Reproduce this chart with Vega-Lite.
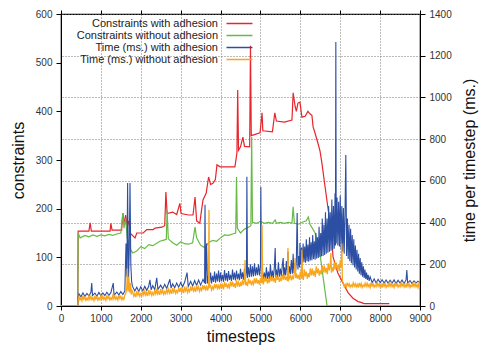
{
  "$schema": "https://vega.github.io/schema/vega-lite/v6.json",
  "width": 359,
  "height": 292,
  "autosize": {"type": "none"},
  "padding": {"left": 61, "top": 14, "right": 60, "bottom": 41},
  "background": "white",
  "config": {
    "font": "Liberation Sans",
    "view": {"stroke": "black", "strokeWidth": 1.2},
    "axis": {"domainColor": "black", "tickColor": "black", "labelColor": "#333", "titleColor": "#111", "titleFontWeight": "normal", "labelFontSize": 10, "titleFontSize": 16, "tickSize": 5, "gridColor": "#777", "gridDash": [1, 2], "gridWidth": 1, "labelOverlap": false, "format": "d"}
  },
  "datasets": {
    "red": [
      {"t":0,"v":0},{"t":420,"v":0},{"t":430,"v":154},{"t":700,"v":154},{"t":730,"v":171},{"t":760,"v":154},{"t":1230,"v":154},{"t":1250,"v":170},{"t":1280,"v":156},{"t":1520,"v":156},{"t":1550,"v":191},{"t":1580,"v":170},{"t":1620,"v":187},{"t":1660,"v":165},{"t":1700,"v":175},{"t":1730,"v":150},{"t":1855,"v":140},{"t":1900,"v":150},{"t":2060,"v":150},{"t":2150,"v":157},{"t":2310,"v":157},{"t":2360,"v":160},{"t":2530,"v":162},{"t":2600,"v":165},{"t":2630,"v":234},{"t":2660,"v":190},{"t":2800,"v":193},{"t":2900,"v":188},{"t":2980,"v":211},{"t":3010,"v":190},{"t":3200,"v":187},{"t":3310,"v":187},{"t":3360,"v":224},{"t":3400,"v":175},{"t":3480,"v":170},{"t":3520,"v":195},{"t":3560,"v":218},{"t":3640,"v":232},{"t":3700,"v":265},{"t":3750,"v":250},{"t":3810,"v":252},{"t":3870,"v":260},{"t":3910,"v":290},{"t":3990,"v":286},{"t":4360,"v":286},{"t":4410,"v":314},{"t":4430,"v":444},{"t":4450,"v":320},{"t":4500,"v":327},{"t":4560,"v":347},{"t":4600,"v":328},{"t":4730,"v":327},{"t":4750,"v":535},{"t":4770,"v":350},{"t":4990,"v":356},{"t":5040,"v":397},{"t":5060,"v":360},{"t":5300,"v":358},{"t":5360,"v":397},{"t":5400,"v":380},{"t":5600,"v":378},{"t":5790,"v":382},{"t":5820,"v":438},{"t":5870,"v":410},{"t":5900,"v":400},{"t":5940,"v":417},{"t":5990,"v":419},{"t":6040,"v":388},{"t":6120,"v":390},{"t":6190,"v":400},{"t":6240,"v":395},{"t":6290,"v":392},{"t":6320,"v":368},{"t":6370,"v":355},{"t":6440,"v":335},{"t":6490,"v":320},{"t":6540,"v":294},{"t":6620,"v":245},{"t":6690,"v":203},{"t":6770,"v":156},{"t":6820,"v":101},{"t":6940,"v":68},{"t":7070,"v":47},{"t":7200,"v":27},{"t":7320,"v":16},{"t":7450,"v":9},{"t":7500,"v":8},{"t":7600,"v":5},{"t":8230,"v":5}
    ],
    "green": [
      {"t":0,"v":0},{"t":420,"v":0},{"t":430,"v":150},{"t":480,"v":140},{"t":600,"v":145},{"t":700,"v":142},{"t":800,"v":146},{"t":900,"v":143},{"t":1000,"v":146},{"t":1100,"v":144},{"t":1200,"v":147},{"t":1300,"v":145},{"t":1400,"v":148},{"t":1500,"v":150},{"t":1550,"v":191},{"t":1580,"v":160},{"t":1620,"v":180},{"t":1660,"v":140},{"t":1700,"v":130},{"t":1750,"v":115},{"t":1800,"v":109},{"t":1900,"v":113},{"t":2000,"v":122},{"t":2100,"v":118},{"t":2200,"v":126},{"t":2300,"v":124},{"t":2400,"v":129},{"t":2480,"v":133},{"t":2600,"v":136},{"t":2640,"v":137},{"t":2660,"v":197},{"t":2690,"v":138},{"t":2800,"v":130},{"t":2900,"v":125},{"t":3000,"v":132},{"t":3100,"v":128},{"t":3200,"v":127},{"t":3300,"v":130},{"t":3360,"v":162},{"t":3400,"v":140},{"t":3500,"v":125},{"t":3600,"v":120},{"t":3700,"v":130},{"t":3800,"v":135},{"t":3900,"v":133},{"t":4000,"v":140},{"t":4100,"v":146},{"t":4200,"v":145},{"t":4300,"v":148},{"t":4380,"v":150},{"t":4400,"v":265},{"t":4420,"v":160},{"t":4500,"v":150},{"t":4600,"v":158},{"t":4700,"v":162},{"t":4760,"v":165},{"t":4780,"v":347},{"t":4800,"v":172},{"t":4900,"v":170},{"t":5000,"v":174},{"t":5100,"v":170},{"t":5200,"v":172},{"t":5300,"v":170},{"t":5370,"v":177},{"t":5400,"v":170},{"t":5500,"v":172},{"t":5600,"v":170},{"t":5700,"v":172},{"t":5790,"v":170},{"t":5820,"v":204},{"t":5850,"v":170},{"t":5950,"v":168},{"t":6050,"v":172},{"t":6150,"v":175},{"t":6200,"v":183},{"t":6240,"v":168},{"t":6300,"v":160},{"t":6370,"v":150},{"t":6430,"v":130},{"t":6490,"v":109},{"t":6570,"v":60},{"t":6620,"v":30},{"t":6670,"v":0},{"t":9000,"v":0}
    ],
    "blue": [
      {"t":0,"v":0},{"t":420,"v":0},{"t":430,"v":40},{"t":450,"v":58},{"t":500,"v":44},{"t":550,"v":63},{"t":600,"v":46},{"t":650,"v":60},{"t":700,"v":48},{"t":750,"v":66},{"t":770,"v":110},{"t":790,"v":50},{"t":850,"v":62},{"t":900,"v":47},{"t":950,"v":65},{"t":1000,"v":49},{"t":1050,"v":63},{"t":1100,"v":50},{"t":1150,"v":66},{"t":1200,"v":51},{"t":1250,"v":64},{"t":1310,"v":110},{"t":1330,"v":52},{"t":1400,"v":67},{"t":1450,"v":53},{"t":1500,"v":69},{"t":1550,"v":55},{"t":1600,"v":72},
      {"t":1630,"v":300},{"t":1650,"v":140},{"t":1670,"v":590},{"t":1690,"v":110},{"t":1710,"v":260},{"t":1730,"v":590},{"t":1750,"v":200},{"t":1770,"v":120},{"t":1790,"v":95},
      {"t":1850,"v":72},{"t":1900,"v":90},{"t":1950,"v":70},{"t":2000,"v":92},{"t":2050,"v":72},{"t":2100,"v":94},{"t":2150,"v":75},{"t":2200,"v":96},{"t":2230,"v":125},{"t":2260,"v":78},{"t":2300,"v":98},{"t":2350,"v":78},{"t":2400,"v":135},{"t":2430,"v":80},{"t":2500,"v":100},{"t":2550,"v":82},{"t":2600,"v":104},{"t":2650,"v":84},{"t":2730,"v":128},{"t":2760,"v":86},{"t":2800,"v":106},{"t":2850,"v":88},{"t":2900,"v":110},{"t":2950,"v":90},
      {"t":3000,"v":112},{"t":3050,"v":92},{"t":3100,"v":115},{"t":3160,"v":160},{"t":3190,"v":94},{"t":3250,"v":118},{"t":3300,"v":96},{"t":3350,"v":122},{"t":3400,"v":98},{"t":3450,"v":124},{"t":3500,"v":100},{"t":3560,"v":128},{"t":3600,"v":110},{"t":3610,"v":485},{"t":3625,"v":105},{"t":3650,"v":300},{"t":3670,"v":108},
      {"t":3700,"v":150},{"t":3725,"v":110},{"t":3750,"v":160},{"t":3775,"v":108},{"t":3800,"v":145},{"t":3825,"v":115},{"t":3850,"v":165},{"t":3875,"v":112},{"t":3900,"v":155},{"t":3925,"v":118},{"t":3950,"v":170},{"t":3975,"v":114},{"t":4000,"v":160},{"t":4025,"v":120},{"t":4050,"v":150},{"t":4075,"v":116},{"t":4100,"v":172},{"t":4125,"v":122},{"t":4150,"v":158},{"t":4175,"v":118},{"t":4200,"v":168},{"t":4225,"v":125},{"t":4250,"v":150},{"t":4275,"v":120},{"t":4300,"v":175},{"t":4325,"v":126},{"t":4350,"v":160},{"t":4375,"v":122},{"t":4400,"v":170},{"t":4425,"v":128},{"t":4450,"v":155},{"t":4475,"v":124},{"t":4500,"v":178},{"t":4525,"v":130},{"t":4550,"v":162},{"t":4575,"v":126},{"t":4600,"v":180},{"t":4625,"v":132},{"t":4650,"v":165},{"t":4660,"v":620},{"t":4675,"v":135},{"t":4700,"v":185},{"t":4725,"v":138},{"t":4750,"v":200},
      {"t":4775,"v":140},{"t":4800,"v":190},{"t":4825,"v":142},{"t":4850,"v":205},{"t":4875,"v":145},{"t":4900,"v":185},{"t":4925,"v":148},{"t":4950,"v":200},{"t":4975,"v":146},{"t":5000,"v":195},{"t":5010,"v":571},{"t":5025,"v":140},{"t":5050,"v":170},{"t":5075,"v":128},{"t":5100,"v":160},{"t":5125,"v":126},{"t":5150,"v":185},{"t":5175,"v":130},{"t":5200,"v":165},{"t":5225,"v":128},{"t":5250,"v":200},{"t":5275,"v":132},{"t":5300,"v":170},{"t":5325,"v":134},{"t":5350,"v":190},{"t":5370,"v":278},{"t":5385,"v":136},{"t":5400,"v":175},{"t":5425,"v":138},{"t":5450,"v":210},{"t":5475,"v":140},{"t":5500,"v":180},{"t":5525,"v":142},{"t":5550,"v":200},{"t":5570,"v":230},{"t":5585,"v":144},{"t":5600,"v":185},{"t":5625,"v":146},{"t":5650,"v":215},{"t":5675,"v":148},{"t":5690,"v":260},{"t":5705,"v":150},{"t":5725,"v":190},{"t":5750,"v":152},{"t":5775,"v":220},{"t":5800,"v":155},{"t":5820,"v":250},{"t":5840,"v":158},{"t":5860,"v":205},{"t":5880,"v":165},{"t":5900,"v":215},{"t":5920,"v":446},{"t":5940,"v":175},{"t":5960,"v":240},{"t":5980,"v":185},{"t":5990,"v":302},
      {"t":6010,"v":200},{"t":6030,"v":280},{"t":6050,"v":205},{"t":6070,"v":300},{"t":6090,"v":210},{"t":6110,"v":285},{"t":6130,"v":208},{"t":6150,"v":320},{"t":6170,"v":215},{"t":6190,"v":295},{"t":6210,"v":212},{"t":6230,"v":330},{"t":6250,"v":218},{"t":6270,"v":305},{"t":6290,"v":220},{"t":6310,"v":340},{"t":6330,"v":225},{"t":6350,"v":310},{"t":6370,"v":222},{"t":6390,"v":350},{"t":6410,"v":228},{"t":6430,"v":330},{"t":6450,"v":230},{"t":6470,"v":380},{"t":6490,"v":235},{"t":6510,"v":350},{"t":6530,"v":238},{"t":6550,"v":420},{"t":6570,"v":240},{"t":6590,"v":390},{"t":6610,"v":245},{"t":6630,"v":450},{"t":6650,"v":250},{"t":6670,"v":420},{"t":6690,"v":255},{"t":6710,"v":480},{"t":6730,"v":260},{"t":6750,"v":450},{"t":6770,"v":265},{"t":6790,"v":510},{"t":6810,"v":270},{"t":6830,"v":480},{"t":6850,"v":275},{"t":6870,"v":540},{"t":6880,"v":290},{"t":6890,"v":1266},{"t":6900,"v":300},{"t":6920,"v":520},{"t":6940,"v":290},{"t":6960,"v":500},{"t":6980,"v":285},{"t":7000,"v":530},{"t":7020,"v":275},{"t":7040,"v":480},{"t":7060,"v":260},{"t":7080,"v":470},{"t":7100,"v":250},{"t":7120,"v":440},{"t":7140,"v":724},{"t":7160,"v":240},{"t":7180,"v":420},{"t":7200,"v":225},{"t":7220,"v":390},{"t":7240,"v":215},{"t":7260,"v":370},{"t":7280,"v":205},{"t":7300,"v":340},{"t":7320,"v":195},{"t":7340,"v":320},{"t":7360,"v":185},{"t":7380,"v":290},{"t":7400,"v":175},{"t":7420,"v":270},{"t":7440,"v":165},{"t":7460,"v":250},{"t":7480,"v":155},{"t":7500,"v":230},{"t":7520,"v":148},{"t":7540,"v":210},{"t":7560,"v":140},{"t":7580,"v":190},{"t":7600,"v":135},{"t":7620,"v":175},{"t":7640,"v":130},{"t":7660,"v":160},{"t":7680,"v":125},{"t":7700,"v":150},{"t":7725,"v":120},{"t":7750,"v":140},
      {"t":7800,"v":112},{"t":7850,"v":130},{"t":7900,"v":110},{"t":7950,"v":128},{"t":8000,"v":112},{"t":8050,"v":126},{"t":8100,"v":110},{"t":8150,"v":125},{"t":8200,"v":109},{"t":8250,"v":124},{"t":8300,"v":110},{"t":8350,"v":125},{"t":8400,"v":108},{"t":8450,"v":123},{"t":8500,"v":110},{"t":8550,"v":124},{"t":8600,"v":108},{"t":8650,"v":125},{"t":8670,"v":172},{"t":8690,"v":110},{"t":8750,"v":122},{"t":8800,"v":108},{"t":8850,"v":121},{"t":8900,"v":110},{"t":8950,"v":119},{"t":9000,"v":112}
    ],
    "orange": [
      {"t":0,"v":0},{"t":420,"v":0},{"t":430,"v":30},
      {"t":450,"v":45},{"t":475,"v":29},{"t":500,"v":39},{"t":525,"v":25},{"t":550,"v":48},{"t":575,"v":32},{"t":600,"v":43},{"t":625,"v":27},{"t":650,"v":38},{"t":675,"v":29},{"t":700,"v":48},{"t":725,"v":32},{"t":750,"v":46},{"t":775,"v":30},{"t":800,"v":40},{"t":825,"v":26},{"t":850,"v":49},{"t":875,"v":33},{"t":900,"v":44},{"t":925,"v":28},{"t":950,"v":39},{"t":975,"v":30},{"t":1000,"v":49},{"t":1025,"v":33},{"t":1050,"v":47},{"t":1075,"v":31},{"t":1100,"v":41},{"t":1125,"v":27},{"t":1150,"v":51},{"t":1175,"v":35},{"t":1200,"v":45},{"t":1225,"v":29},{"t":1250,"v":40},{"t":1275,"v":31},{"t":1300,"v":50},{"t":1325,"v":34},{"t":1350,"v":48},{"t":1375,"v":32},{"t":1400,"v":43},{"t":1425,"v":29},{"t":1450,"v":52},{"t":1475,"v":36},{"t":1500,"v":46},{"t":1525,"v":30},{"t":1550,"v":41},{"t":1575,"v":32},{"t":1600,"v":53},
      {"t":1625,"v":60},{"t":1650,"v":90},{"t":1665,"v":180},{"t":1680,"v":70},{"t":1700,"v":140},{"t":1720,"v":65},{"t":1740,"v":110},{"t":1760,"v":55},{"t":1780,"v":75},
      {"t":1800,"v":66},{"t":1825,"v":47},{"t":1850,"v":60},{"t":1875,"v":43},{"t":1900,"v":71},{"t":1925,"v":52},{"t":1950,"v":64},{"t":1975,"v":46},{"t":2000,"v":59},{"t":2025,"v":49},{"t":2050,"v":72},{"t":2075,"v":53},{"t":2100,"v":71},{"t":2125,"v":52},{"t":2150,"v":65},{"t":2175,"v":48},{"t":2200,"v":76},{"t":2225,"v":57},{"t":2250,"v":69},{"t":2275,"v":51},{"t":2300,"v":64},{"t":2325,"v":54},{"t":2350,"v":77},{"t":2375,"v":58},{"t":2400,"v":76},{"t":2425,"v":57},{"t":2450,"v":70},{"t":2475,"v":53},{"t":2500,"v":81},{"t":2525,"v":62},{"t":2550,"v":74},{"t":2575,"v":56},{"t":2600,"v":69},{"t":2625,"v":59},{"t":2650,"v":82},{"t":2675,"v":63},{"t":2700,"v":81},{"t":2725,"v":62},{"t":2750,"v":75},{"t":2775,"v":58},{"t":2800,"v":86},{"t":2825,"v":67},{"t":2850,"v":79},{"t":2875,"v":61},{"t":2900,"v":74},{"t":2925,"v":64},{"t":2950,"v":87},{"t":2975,"v":68},
      {"t":3000,"v":87},{"t":3025,"v":66},{"t":3050,"v":80},{"t":3075,"v":62},{"t":3100,"v":93},{"t":3125,"v":72},{"t":3150,"v":86},{"t":3175,"v":65},{"t":3200,"v":80},{"t":3225,"v":69},{"t":3250,"v":94},{"t":3275,"v":73},{"t":3300,"v":93},{"t":3325,"v":72},{"t":3350,"v":86},{"t":3375,"v":68},{"t":3400,"v":99},{"t":3425,"v":78},{"t":3450,"v":92},{"t":3475,"v":71},{"t":3500,"v":86},{"t":3525,"v":75},{"t":3550,"v":100},{"t":3575,"v":79},{"t":3600,"v":99},{"t":3625,"v":78},{"t":3650,"v":92},{"t":3675,"v":74},{"t":3700,"v":105},{"t":3710,"v":460},{"t":3720,"v":90},{"t":3750,"v":98},{"t":3775,"v":77},{"t":3800,"v":92},{"t":3825,"v":81},{"t":3850,"v":106},{"t":3875,"v":85},{"t":3900,"v":105},{"t":3925,"v":84},{"t":3950,"v":98},{"t":3975,"v":80},
      {"t":4000,"v":109},{"t":4025,"v":85},{"t":4050,"v":101},{"t":4075,"v":80},{"t":4100,"v":116},{"t":4125,"v":92},{"t":4150,"v":108},{"t":4175,"v":84},{"t":4200,"v":102},{"t":4225,"v":89},{"t":4250,"v":118},{"t":4275,"v":94},{"t":4300,"v":117},{"t":4325,"v":92},{"t":4350,"v":109},{"t":4375,"v":87},{"t":4400,"v":123},{"t":4425,"v":100},{"t":4450,"v":115},{"t":4475,"v":92},{"t":4500,"v":110},{"t":4525,"v":96},{"t":4550,"v":126},{"t":4575,"v":101},{"t":4600,"v":124},{"t":4615,"v":220},{"t":4630,"v":99},{"t":4650,"v":116},{"t":4675,"v":95},{"t":4700,"v":131},{"t":4725,"v":107},{"t":4750,"v":123},{"t":4775,"v":99},{"t":4800,"v":117},{"t":4825,"v":104},{"t":4850,"v":133},{"t":4875,"v":109},{"t":4900,"v":132},{"t":4925,"v":107},{"t":4950,"v":124},{"t":4975,"v":102},
      {"t":5000,"v":134},{"t":5025,"v":110},{"t":5040,"v":388},{"t":5055,"v":115},{"t":5075,"v":104},{"t":5100,"v":141},{"t":5125,"v":117},{"t":5150,"v":134},{"t":5175,"v":108},{"t":5200,"v":127},{"t":5225,"v":113},{"t":5250,"v":144},{"t":5275,"v":119},{"t":5300,"v":141},{"t":5325,"v":117},{"t":5350,"v":134},{"t":5375,"v":111},{"t":5400,"v":149},{"t":5425,"v":125},{"t":5450,"v":141},{"t":5475,"v":116},{"t":5500,"v":134},{"t":5525,"v":120},{"t":5550,"v":152},{"t":5575,"v":126},{"t":5600,"v":149},{"t":5625,"v":125},{"t":5650,"v":141},{"t":5675,"v":119},{"t":5690,"v":278},{"t":5705,"v":125},{"t":5725,"v":132},{"t":5750,"v":149},{"t":5775,"v":123},{"t":5800,"v":142},{"t":5825,"v":128},{"t":5850,"v":159},{"t":5870,"v":230},{"t":5885,"v":134},{"t":5900,"v":157},{"t":5925,"v":132},{"t":5950,"v":149},{"t":5975,"v":126},
      {"t":6000,"v":165},{"t":6025,"v":131},{"t":6040,"v":270},{"t":6055,"v":140},{"t":6075,"v":125},{"t":6100,"v":176},{"t":6125,"v":142},{"t":6150,"v":165},{"t":6175,"v":131},{"t":6200,"v":157},{"t":6225,"v":138},{"t":6250,"v":181},{"t":6275,"v":147},{"t":6300,"v":179},{"t":6325,"v":146},{"t":6350,"v":169},{"t":6375,"v":139},{"t":6400,"v":190},{"t":6425,"v":156},{"t":6450,"v":179},{"t":6475,"v":146},{"t":6500,"v":171},{"t":6525,"v":152},{"t":6550,"v":195},{"t":6575,"v":161},{"t":6600,"v":194},{"t":6625,"v":160},{"t":6650,"v":183},{"t":6675,"v":153},{"t":6700,"v":204},{"t":6725,"v":171},{"t":6750,"v":194},{"t":6765,"v":254},{"t":6780,"v":160},{"t":6800,"v":185},{"t":6825,"v":166},{"t":6850,"v":210},{"t":6875,"v":176},{"t":6900,"v":208},{"t":6925,"v":174},{"t":6950,"v":197},{"t":6975,"v":167},{"t":7000,"v":219},{"t":7025,"v":183},{"t":7040,"v":300},{"t":7055,"v":120},
      {"t":7075,"v":109},{"t":7100,"v":93},{"t":7125,"v":103},{"t":7150,"v":89},{"t":7175,"v":112},{"t":7200,"v":96},{"t":7225,"v":106},{"t":7250,"v":90},{"t":7275,"v":101},{"t":7300,"v":92},{"t":7325,"v":111},{"t":7350,"v":95},
      {"t":7375,"v":107},{"t":7400,"v":91},{"t":7425,"v":104},{"t":7450,"v":88},{"t":7475,"v":110},{"t":7500,"v":94},{"t":7525,"v":108},{"t":7550,"v":89},{"t":7575,"v":100},{"t":7600,"v":93},{"t":7625,"v":109},{"t":7650,"v":94},
      {"t":7675,"v":109},{"t":7700,"v":93},{"t":7725,"v":103},{"t":7750,"v":89},{"t":7775,"v":112},{"t":7800,"v":96},{"t":7825,"v":106},{"t":7850,"v":90},{"t":7875,"v":101},{"t":7900,"v":92},{"t":7925,"v":111},{"t":7950,"v":95},
      {"t":7975,"v":107},{"t":8000,"v":91},{"t":8025,"v":104},{"t":8050,"v":88},{"t":8075,"v":110},{"t":8100,"v":94},{"t":8125,"v":108},{"t":8150,"v":89},{"t":8175,"v":100},{"t":8200,"v":93},{"t":8225,"v":109},{"t":8250,"v":94},
      {"t":8275,"v":109},{"t":8300,"v":93},{"t":8325,"v":103},{"t":8350,"v":89},{"t":8375,"v":112},{"t":8400,"v":96},{"t":8425,"v":106},{"t":8450,"v":90},{"t":8475,"v":101},{"t":8500,"v":92},{"t":8525,"v":111},{"t":8550,"v":95},
      {"t":8575,"v":107},{"t":8600,"v":91},{"t":8625,"v":104},{"t":8650,"v":88},{"t":8675,"v":110},{"t":8700,"v":94},{"t":8725,"v":108},{"t":8750,"v":89},{"t":8775,"v":100},{"t":8800,"v":93},{"t":8825,"v":109},{"t":8850,"v":94},
      {"t":8875,"v":108},{"t":8900,"v":92},{"t":8925,"v":103},{"t":8950,"v":88},{"t":8975,"v":110},{"t":9000,"v":97}
    ]
  },
  "encoding": {
    "x": {"field": "t", "type": "quantitative", "scale": {"domain": [0, 9000], "nice": false}, "axis": {"values": [0,1000,2000,3000,4000,5000,6000,7000,8000,9000], "labelOverlap": false, "labelFlush": false, "format": "d", "grid": true, "title": "timesteps", "tickSize": 4, "labelPadding": 3, "titlePadding": 5}}
  },
  "layer": [
    {
      "layer": [
        {
          "data": {"name": "red"},
          "mark": {"type": "line", "strokeWidth": 1.2, "clip": true},
          "encoding": {
            "y": {"field": "v", "type": "quantitative", "scale": {"domain": [0, 600], "nice": false}, "axis": {"values": [0,100,200,300,400,500,600], "grid": false, "title": "constraints", "labelPadding": 4, "titlePadding": 9}},
            "color": {"datum": "Constraints with adhesion", "type": "nominal",
              "scale": {"domain": ["Constraints with adhesion", "Constraints without adhesion", "Time (ms.) with adhesion", "Time (ms.) without adhesion"], "range": ["#e8242c", "#67bb45", "#2c4ea3", "#f9a61c"]},
              "legend": {"orient": "none", "legendX": 173, "legendY": 4, "title": null, "symbolType": "M-3.25,0H3.25", "symbolSize": 64, "symbolStrokeWidth": 1.5, "labelAlign": "right", "labelOffset": -27, "labelFontSize": 11, "labelColor": "#222", "labelBaseline": "middle", "rowPadding": 0, "padding": 0,
                "encode": {"symbols": {"update": {"stroke": {"scale": "color", "field": "value"}, "strokeWidth": {"value": 1.5}, "opacity": {"value": 1}}}}}}
          }
        },
        {
          "data": {"name": "green"},
          "mark": {"type": "line", "strokeWidth": 1.2, "clip": true},
          "encoding": {
            "y": {"field": "v", "type": "quantitative"},
            "color": {"datum": "Constraints without adhesion", "type": "nominal"}
          }
        }
      ]
    },
    {
      "encoding": {
        "x": {"field": "t", "type": "quantitative", "axis": {"orient": "top", "values": [0,1000,2000,3000,4000,5000,6000,7000,8000,9000], "labels": false, "title": null, "grid": false, "domain": false, "tickSize": 4}}
      },
      "layer": [
        {
          "data": {"name": "blue"},
          "mark": {"type": "line", "strokeWidth": 1.1, "clip": true},
          "encoding": {
            "y": {"field": "v", "type": "quantitative", "scale": {"domain": [0, 1400], "nice": false}, "axis": {"orient": "right", "values": [0,200,400,600,800,1000,1200,1400], "grid": true, "title": "time per timestep (ms.)", "titleAngle": 270, "titleBaseline": "top", "labelPadding": 4, "titlePadding": 10}},
            "color": {"datum": "Time (ms.) with adhesion", "type": "nominal"}
          }
        },
        {
          "data": {"name": "orange"},
          "mark": {"type": "line", "strokeWidth": 1.3, "clip": true},
          "encoding": {
            "y": {"field": "v", "type": "quantitative"},
            "color": {"datum": "Time (ms.) without adhesion", "type": "nominal"}
          }
        }
      ]
    }
  ],
  "resolve": {"scale": {"y": "independent"}, "axis": {"y": "independent", "x": "independent"}}
}
